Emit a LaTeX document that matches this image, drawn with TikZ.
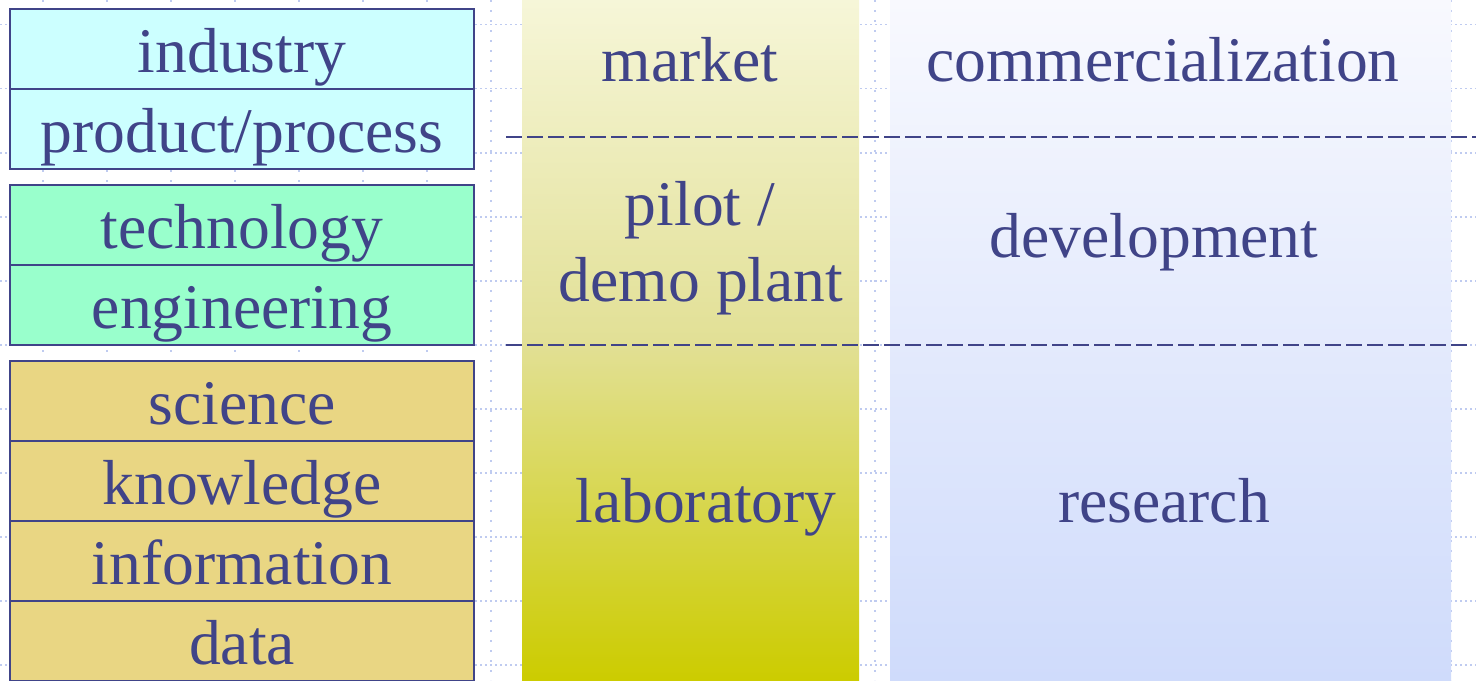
\documentclass[tikz,border=0pt]{standalone}
\usepackage{fontspec}
\setmainfont{Liberation Serif}
\definecolor{ink}{HTML}{404488}
\definecolor{gridblue}{HTML}{BFCBF0}
\definecolor{cyanfill}{HTML}{CCFFFF}
\definecolor{greenfill}{HTML}{99FFCC}
\definecolor{tanfill}{HTML}{E9D683}
\definecolor{labtop}{HTML}{F6F6D8}
\definecolor{labmid}{HTML}{E2E096}
\definecolor{labbot}{HTML}{CCCC00}
\definecolor{restop}{HTML}{F8F9FE}
\definecolor{resbot}{HTML}{CFDBFB}
% stage column: light at the top, saturated yellow at the bottom
\pgfdeclareverticalshading{stageshade}{100bp}{color(0bp)=(labbot); color(25bp)=(labbot); color(50bp)=(labmid); color(75bp)=(labtop); color(100bp)=(labtop)}
\begin{document}
\begin{tikzpicture}[x=0.5pt,y=-0.5pt,
  every node/.style={text=ink, font=\fontsize{31.8}{38}\selectfont},
  cell/.style={draw=ink, line width=1.15pt, minimum width=232pt, minimum height=40pt,
    inner sep=0pt, text height=25pt, text depth=2pt},
  label/.style={anchor=base, inner sep=0pt},
  gridline/.style={draw=gridblue, line width=0.9pt},
  splitline/.style={draw=ink, line width=1.4pt, dash pattern=on 8pt off 2.5pt}]

\useasboundingbox (0,0) rectangle (1476,680);
\clip (0,0) rectangle (1476,680);
\fill[white] (0,0) rectangle (1476,680);

% dotted background grid
\foreach \k in {0,...,10}
  \draw[gridline, dash pattern=on 1pt off 1.5pt] (0,24.5+64.05*\k) -- (1476,24.5+64.05*\k);
\foreach \k in {0,...,22}
  \draw[gridline, dash pattern=on 1pt off 4pt] (43+64*\k,0) -- (43+64*\k,680);

% stage column and activity panel
\path[shading=stageshade] (522,0) rectangle (859,680);
\path[top color=restop, bottom color=resbot] (890,0) rectangle (1451,680);

% left stack of levels
\node[cell, fill=cyanfill]  (industry)    at (242,49)  {industry};
\node[cell, fill=cyanfill]  (product)     at (242,129) {product/process};
\node[cell, fill=greenfill] (technology)  at (242,225) {technology};
\node[cell, fill=greenfill] (engineering) at (242,305) {engineering};
\node[cell, fill=tanfill]   (science)     at (242,401) {science};
\node[cell, fill=tanfill]   (knowledge)   at (242,481) {knowledge};
\node[cell, fill=tanfill]   (information) at (242,561) {information};
\node[cell, fill=tanfill]   (data)        at (242,641) {data};

% stage and activity labels
\node[label] (market)   at (690,81)   {market};
\node[label] (commerce) at (1163,81)  {commercialization};
\node[label] (pilot)    at (700,225)  {pilot /};
\node[label] (demo)     at (701,301)  {demo plant};
\node[label] (develop)  at (1154,257) {development};
\node[label] (lab)      at (706,522)  {laboratory};
\node[label] (research) at (1164,522) {research};

% dashed separators between the phases
\coordinate (upperL) at (506,137);
\coordinate (upperR) at (1480,137);
\coordinate (lowerL) at (506,345);
\coordinate (lowerR) at (1468,345);
\draw[splitline] (upperL) -- (upperR);
\draw[splitline] (lowerL) -- (lowerR);
\end{tikzpicture}
\end{document}
